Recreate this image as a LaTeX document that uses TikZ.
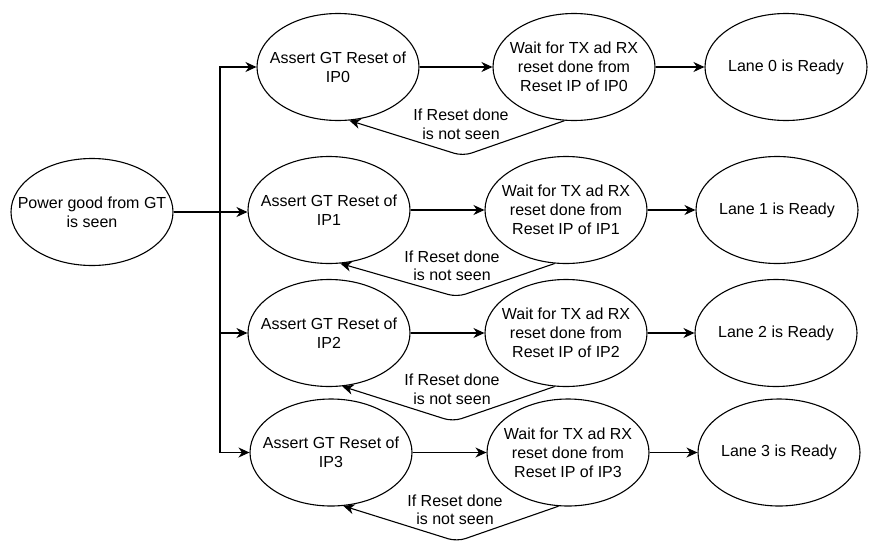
\documentclass[tikz,border=0pt]{standalone}
\usepackage{fontspec}
\setmainfont{Liberation Sans}
\usetikzlibrary{shapes.geometric,arrows.meta}
\tikzset{
  state/.style={ellipse, draw, line width=1.1pt, minimum width=162pt, minimum height=107pt,
    inner sep=0pt, label={[txt]center:#1}},
  txt/.style={align=center, inner sep=0pt, font=\fontsize{16}{19}\selectfont},
  arr/.style={line width=1.1pt, -{Stealth[length=11pt,width=10pt,inset=3.5pt]}},
  fb/.style={arr, rounded corners=9pt},
  lbl/.style={align=center, inner sep=0pt, font=\fontsize{16}{18.5}\selectfont}
}
\begin{document}
\begin{tikzpicture}[x=1pt,y=-1pt]
\useasboundingbox (0,0) rectangle (874,557);
% nodes
\node[state={Power good from GT\\is seen}] (pg) at (92,212) {};
\node[state={Assert GT Reset of\\IP0}] (a0) at (338,67) {};
\node[state={Wait for TX ad RX\\reset done from\\Reset IP of IP0}] (w0) at (574,67) {};
\node[state={Lane 0 is Ready}] (l0) at (786,67) {};
\node[state={Assert GT Reset of\\IP1}] (a1) at (329,210) {};
\node[state={Wait for TX ad RX\\reset done from\\Reset IP of IP1}] (w1) at (566,210) {};
\node[state={Lane 1 is Ready}] (l1) at (777,210) {};
\node[state={Assert GT Reset of\\IP2}] (a2) at (329,333) {};
\node[state={Wait for TX ad RX\\reset done from\\Reset IP of IP2}] (w2) at (566,333) {};
\node[state={Lane 2 is Ready}] (l2) at (776,333) {};
\node[state={Assert GT Reset of\\IP3}] (a3) at (331,452.5) {};
\node[state={Wait for TX ad RX\\reset done from\\Reset IP of IP3}] (w3) at (568,452.5) {};
\node[state={Lane 3 is Ready}] (l3) at (779,452.5) {};
% junction
\coordinate (j) at (220,212);
\draw[arr] (pg.east) -- (j) |- (a0.west);
\draw[arr] (pg.east) -- (a1.west |- pg.east);
\draw[arr] (pg.east) -- (j) |- (a2.west);
\draw[arr] (pg.east) -- (j) |- (a3.west);
% row arrows
\draw[arr] (a0) -- (w0);
\draw[arr] (w0) -- (l0);
\draw[arr] (a1) -- (w1);
\draw[arr] (w1) -- (l1);
\draw[arr] (a2) -- (w2);
\draw[arr] (w2) -- (l2);
\draw[arr] (a3) -- (w3);
\draw[arr] (w3) -- (l3);
% feedback
\coordinate (b0) at (463,156);
\coordinate (b1) at (457,297);
\coordinate (b2) at (453,421.5);
\coordinate (b3) at (457,541.5);
\draw[fb] (w0.-100) -- (b0) -- (a0.-78);
\draw[fb] (w1.-102) -- (b1) -- (a1.-78);
\draw[fb] (w2.-102) -- (b2) -- (a2.-76);
\draw[fb] (w3.-100) -- (b3) -- (a3.-77);
% labels
\node[lbl] (t0) at (461,124.5) {If Reset done\\is not seen};
\node[lbl] (t1) at (452,266) {If Reset done\\is not seen};
\node[lbl] (t2) at (452,389.5) {If Reset done\\is not seen};
\node[lbl] (t3) at (455,510) {If Reset done\\is not seen};
\end{tikzpicture}
\end{document}
